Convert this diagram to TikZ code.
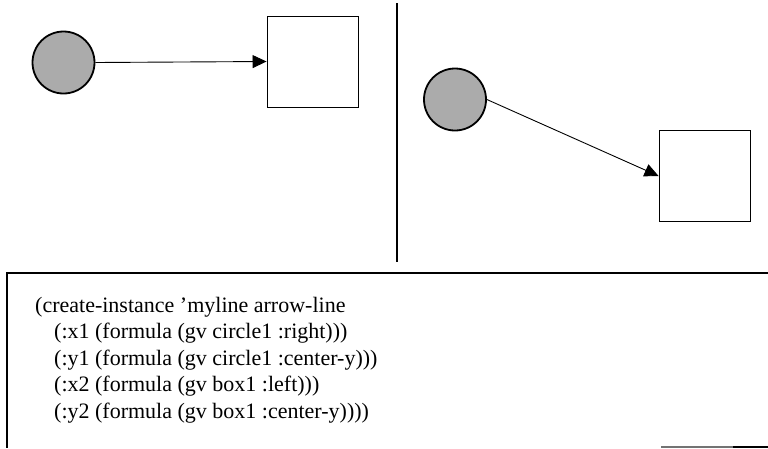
\documentclass[tikz,border=0pt]{standalone}
\usepackage{fontspec}
\setmainfont{Liberation Serif}
\usetikzlibrary{arrows.meta}
\begin{document}
\begin{tikzpicture}[x=1pt,y=-1pt,
  ball/.style={circle,draw=black,line width=1.8pt,fill=black!33,minimum size=62pt,inner sep=0pt},
  sqbox/.style={rectangle,draw=black,line width=0.9pt,fill=white,minimum width=91pt,minimum height=91pt,inner sep=0pt},
  link/.style={line width=0.9pt,-{Triangle[length=14pt,width=13pt]}},
  codeline/.style={anchor=base west,inner sep=0pt,font=\fontsize{22}{26}\selectfont},
  frame/.style={line width=1.6pt}]
\useasboundingbox (0,0) rectangle (768,448);
% left panel
\node[ball] (c1) at (63.5,62.5) {};
\node[sqbox] (b1) at (312.5,61.5) {};
\draw[link] (c1.east) -- (b1.west);
% divider
\coordinate (d1) at (397,3);
\coordinate (d2) at (397,262);
\draw[frame] (d1) -- (d2);
% right panel
\node[ball] (c2) at (455,99.5) {};
\node[sqbox] (b2) at (704.5,176) {};
\draw[link] (c2.east) -- (b2.west);
% code box
\coordinate (f1) at (768,273);
\coordinate (f2) at (7,273);
\coordinate (f3) at (7,448);
\draw[frame] (f1) -- (f2) -- (f3);
\coordinate (g1) at (661,447);
\coordinate (g2) at (733,447);
\coordinate (g3) at (768,447);
\draw[line width=1.2pt,black!55] (g1) -- (g2);
\draw[line width=1.6pt] (g2) -- (g3);
\node[codeline] (l1) at (35,312) {(create-instance ’myline arrow-line};
\node[codeline] (l2) at (54,338.5) {(:x1 (formula (gv circle1 :right)))};
\node[codeline] (l3) at (54,365) {(:y1 (formula (gv circle1 :center-y)))};
\node[codeline] (l4) at (54,391.5) {(:x2 (formula (gv box1 :left)))};
\node[codeline] (l5) at (54,418) {(:y2 (formula (gv box1 :center-y))))};
\end{tikzpicture}
\end{document}
